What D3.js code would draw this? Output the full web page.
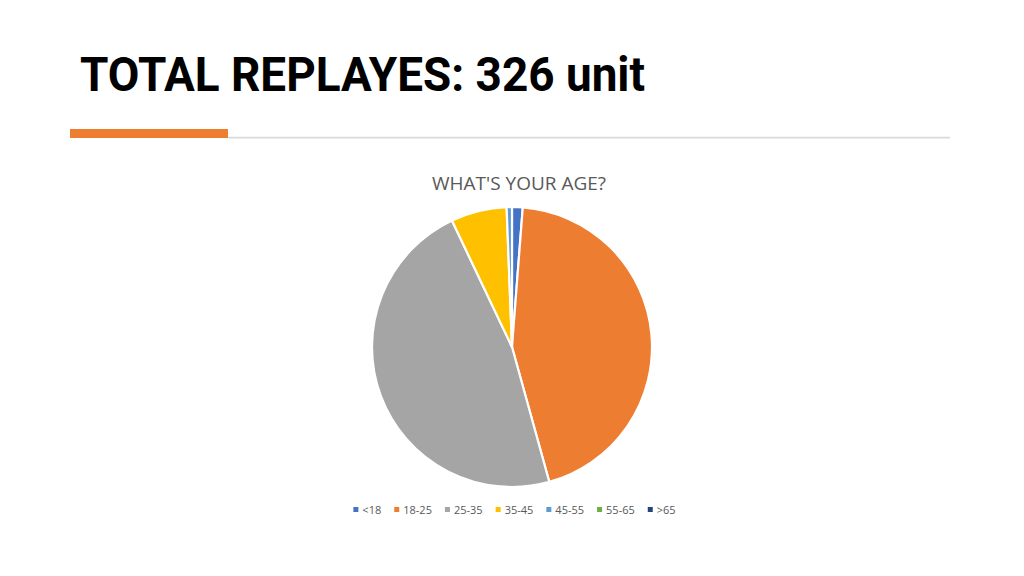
<!DOCTYPE html>
<html><head><meta charset="utf-8">
<script src="https://cdn.jsdelivr.net/npm/d3@7"></script>
<style>html,body{margin:0;padding:0;background:#fff;}svg{display:block;}</style>
</head><body>
<svg id="c" width="1024" height="576"></svg>
<script>
const pageTitle = "TOTAL REPLAYES: 326 unit";
const chartTitle = "WHAT'S YOUR AGE?";
const categories = ["<18", "18-25", "25-35", "35-45", "45-55", "55-65", ">65"];
const counts = [4, 145, 154, 21, 2, 0, 0];
const colors = ["#4472C4", "#ED7D31", "#A5A5A5", "#FFC000", "#5B9BD5", "#70AD47", "#264478"];

const svg = d3.select("#c");
svg.append("rect").attr("width", 1024).attr("height", 576).attr("fill", "#fff");

// header
svg.append("text").attr("x", 80).attr("y", 90.5)
  .attr("font-family", "Roboto, 'Liberation Sans', sans-serif").attr("font-weight", 700)
  .attr("font-size", 47.5).attr("fill", "#000")
  .attr("textLength", 565).attr("lengthAdjust", "spacingAndGlyphs")
  .text(pageTitle);
svg.append("line").attr("x1", 228).attr("x2", 950).attr("y1", 137.6).attr("y2", 137.6)
  .attr("stroke", "#d9d9d9").attr("stroke-width", 1.6);
svg.append("rect").attr("x", 70).attr("y", 129).attr("width", 158).attr("height", 9).attr("fill", "#ED7D31");

// chart title
svg.append("text").attr("x", 519).attr("y", 189.5).attr("text-anchor", "middle")
  .attr("font-family", "'Open Sans', 'Noto Sans', sans-serif").attr("font-size", 17.5)
  .attr("fill", "#595959").attr("textLength", 174).attr("lengthAdjust", "spacingAndGlyphs")
  .text(chartTitle);

// pie
const cx = 512, cy = 347, r = 140;
const pie = d3.pie().sort(null).value(d => d.v)(categories.map((c, i) => ({c, v: counts[i], col: colors[i]})));
const arc = d3.arc().innerRadius(0).outerRadius(r);
svg.append("g").attr("transform", `translate(${cx},${cy})`)
  .selectAll("path").data(pie.filter(d => d.data.v > 0)).join("path")
  .attr("d", arc).attr("fill", d => d.data.col)
  .attr("stroke", "#fff").attr("stroke-width", 2.2).attr("stroke-linejoin", "round");

// legend
const lg = svg.append("g");
const items = lg.selectAll("g").data(categories).join("g");
items.append("rect").attr("width", 5).attr("height", 5).attr("y", -7).attr("fill", (d, i) => colors[i]);
items.append("text").attr("x", 9).attr("y", 0)
  .attr("font-family", "'Open Sans', 'Noto Sans', sans-serif").attr("font-size", 11)
  .attr("fill", "#595959").text(d => d);
let x = 0;
const gap = 13;
const widths = [];
items.each(function(d) { widths.push(9 + d3.select(this).select("text").node().getComputedTextLength()); });
const total = d3.sum(widths) + gap * (widths.length - 1);
items.attr("transform", (d, i) => { const t = x; x += widths[i] + gap; return `translate(${t},0)`; });
lg.attr("transform", `translate(${514.5 - total / 2},514)`);
</script>
</body></html>
